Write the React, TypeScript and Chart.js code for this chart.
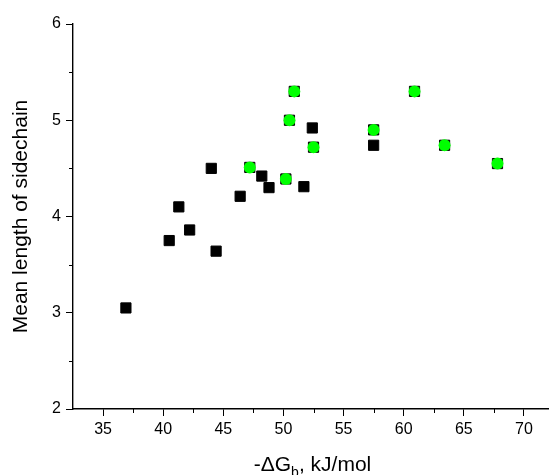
import React, { useEffect, useRef } from 'react';
import { Chart, registerables } from 'chart.js';

Chart.register(...registerables);

// All samples (black squares)
const allX = [36.9, 40.5, 41.3, 42.2, 44.0, 44.4, 46.4, 48.2, 48.8, 51.7, 52.4, 57.5, 50.9, 60.9, 50.5, 57.5, 52.5, 63.4, 67.8, 47.2, 50.2];
const allY = [3.05, 3.75, 4.10, 3.86, 4.50, 3.64, 4.21, 4.42, 4.30, 4.31, 4.92, 4.74, 5.30, 5.30, 5.00, 4.90, 4.72, 4.74, 4.55, 4.51, 4.39];
// Highlighted subset (green circles)
const greenX = [50.9, 60.9, 50.5, 57.5, 52.5, 63.4, 67.8, 47.2, 50.2];
const greenY = [5.30, 5.30, 5.00, 4.90, 4.72, 4.74, 4.55, 4.51, 4.39];

const xMajorTicks = [35, 40, 45, 50, 55, 60, 65, 70];
const xMinorTicks = [37.5, 42.5, 47.5, 52.5, 57.5, 62.5, 67.5];
const yMajorTicks = [2, 3, 4, 5, 6];
const yMinorTicks = [2.5, 3.5, 4.5, 5.5];

const xTitleMain = '-ΔG';
const xTitleSub = 'b';
const xTitleRest = ', kJ/mol';
const yTitle = 'Mean length of sidechain';

const FONT = '"Liberation Sans", Arial, sans-serif';

const extrasPlugin = {
  id: 'extras',
  afterDraw(chart: any) {
    const ctx = chart.ctx;
    const xs = chart.scales.x;
    const ys = chart.scales.y;
    const area = chart.chartArea;
    ctx.save();
    ctx.strokeStyle = '#000';
    ctx.lineWidth = 1;
    ctx.beginPath();
    xMinorTicks.forEach((v) => {
      const px = Math.round(xs.getPixelForValue(v)) + 0.5;
      ctx.moveTo(px, area.bottom);
      ctx.lineTo(px, area.bottom + 4);
    });
    yMinorTicks.forEach((v) => {
      const py = Math.round(ys.getPixelForValue(v)) + 0.5;
      ctx.moveTo(area.left, py);
      ctx.lineTo(area.left - 4, py);
    });
    ctx.stroke();

    // x-axis title with subscript
    const mainFont = `21px ${FONT}`;
    const subFont = `14px ${FONT}`;
    ctx.font = mainFont;
    const w1 = ctx.measureText(xTitleMain).width;
    const w3 = ctx.measureText(xTitleRest).width;
    ctx.font = subFont;
    const w2 = ctx.measureText(xTitleSub).width;
    const total = w1 + w2 + w3;
    let x = (area.left + area.right) / 2 - total / 2 + 2;
    const base = 471;
    ctx.fillStyle = '#000';
    ctx.textBaseline = 'alphabetic';
    ctx.textAlign = 'left';
    ctx.font = mainFont;
    ctx.fillText(xTitleMain, x, base);
    x += w1;
    ctx.font = subFont;
    ctx.fillText(xTitleSub, x, base + 6);
    x += w2;
    ctx.font = mainFont;
    ctx.fillText(xTitleRest, x, base);
    ctx.restore();
  },
};

export default function App() {
  const ref = useRef<HTMLCanvasElement>(null);

  useEffect(() => {
    if (!ref.current) return;
    const chart = new Chart(ref.current, {
      type: 'scatter',
      data: {
        datasets: [
          {
            label: 'highlight',
            data: greenX.map((x, i) => ({ x, y: greenY[i] })),
            pointStyle: 'circle',
            pointRadius: 6,
            pointHoverRadius: 6,
            backgroundColor: '#00ff00',
            borderColor: '#00ff00',
            borderWidth: 0,
          },
          {
            label: 'all',
            data: allX.map((x, i) => ({ x, y: allY[i] })),
            pointStyle: 'rect',
            pointRadius: 7.2,
            pointHoverRadius: 7.2,
            backgroundColor: '#000',
            borderColor: '#000',
            borderWidth: 1,
          },
        ],
      },
      options: {
        animation: false,
        responsive: true,
        maintainAspectRatio: false,
        layout: { autoPadding: false, padding: { top: 24, right: 1, left: 0, bottom: 0 } },
        plugins: {
          legend: { display: false },
          tooltip: { enabled: false },
        },
        scales: {
          x: {
            type: 'linear',
            min: 32.5,
            max: 72,
            afterBuildTicks: (s: any) => {
              s.ticks = xMajorTicks.map((v) => ({ value: v }));
            },
            afterFit: (s: any) => {
              s.height = 66;
              s.paddingLeft = 0;
              s.paddingRight = 0;
            },
            grid: {
              drawOnChartArea: false,
              drawTicks: true,
              tickLength: 7,
              color: '#000',
              lineWidth: 1,
            },
            border: { display: true, color: '#000', width: 1.4 },
            ticks: {
              color: '#000',
              font: { family: FONT, size: 16 },
              padding: 4,
              maxRotation: 0,
              autoSkip: false,
            },
          },
          y: {
            type: 'linear',
            min: 2,
            max: 6,
            afterBuildTicks: (s: any) => {
              s.ticks = yMajorTicks.map((v) => ({ value: v }));
            },
            afterFit: (s: any) => {
              s.width = 73;
              s.paddingTop = 0;
              s.paddingBottom = 0;
            },
            grid: {
              drawOnChartArea: false,
              drawTicks: true,
              tickLength: 7,
              color: '#000',
              lineWidth: 1,
            },
            border: { display: true, color: '#000', width: 1.4 },
            ticks: {
              color: '#000',
              font: { family: FONT, size: 16 },
              padding: 5,
              autoSkip: false,
            },
            title: {
              display: true,
              text: yTitle,
              color: '#000',
              font: { family: FONT, size: 21 },
              padding: { top: 9, bottom: 0 },
            },
          },
        },
      },
      plugins: [extrasPlugin],
    });
    return () => chart.destroy();
  }, []);

  return (
    <div style={{ position: 'fixed', left: 0, top: 0, width: 549, height: 475, background: '#fff' }}>
      <canvas ref={ref} />
    </div>
  );
}
